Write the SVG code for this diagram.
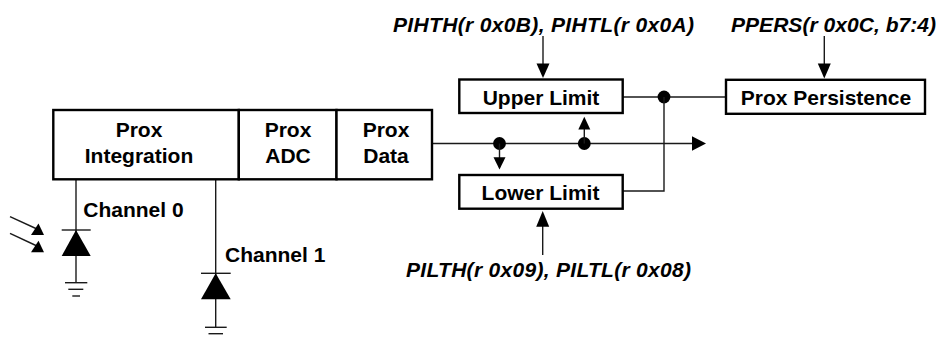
<svg xmlns="http://www.w3.org/2000/svg" width="945" height="339" viewBox="0 0 945 339">
<style>
.box{fill:#fff;stroke:#000;stroke-width:2.4}
.ln{fill:none;stroke:#1a1a1a;stroke-width:1.4}
.hd{fill:#000;stroke:none}
.t{font-family:"Liberation Sans",Arial,Helvetica,sans-serif;font-weight:bold;font-size:21px;fill:#000}
.c{text-anchor:middle}
.i{font-style:italic}
</style>
<rect width="945" height="339" fill="#fff"/>
<g id="connectors">
  <line class="ln" x1="432" y1="143.5" x2="693" y2="143.5"/>
  <polygon class="hd" points="692,136.3 706,143.5 692,150.7"/>
  <circle class="hd" cx="499.5" cy="143.5" r="6.4"/>
  <line class="ln" x1="499.5" y1="143.5" x2="499.5" y2="158"/>
  <polygon class="hd" points="493.5,157.3 505.5,157.3 499.5,169.5"/>
  <circle class="hd" cx="584.3" cy="143.5" r="6.4"/>
  <line class="ln" x1="584.3" y1="143.5" x2="584.3" y2="129"/>
  <polygon class="hd" points="578.3,129.5 590.3,129.5 584.3,116.7"/>
  <line class="ln" x1="622.7" y1="97" x2="726" y2="97"/>
  <circle class="hd" cx="664" cy="97" r="6.4"/>
  <polyline class="ln" points="664,97 664,191 622.7,191"/>
  <line class="ln" x1="543" y1="36" x2="543" y2="64"/>
  <polygon class="hd" points="536.5,63.5 549.5,63.5 543,78"/>
  <line class="ln" x1="824.3" y1="36" x2="824.3" y2="64"/>
  <polygon class="hd" points="817.8,63.5 830.8,63.5 824.3,78.5"/>
  <line class="ln" x1="542.7" y1="255" x2="542.7" y2="226"/>
  <polygon class="hd" points="536.2,226.7 549.2,226.7 542.7,211"/>
  <line class="ln" x1="76" y1="179.3" x2="76" y2="282.7"/>
  <line class="ln" x1="215.7" y1="179.3" x2="215.7" y2="327.3"/>
</g>
<g id="prox-integration">
  <rect class="box" x="53.3" y="110" width="185.5" height="69.3"/>
  <text class="t c" x="139" y="137">Prox</text>
  <text class="t c" x="139" y="163.3">Integration</text>
</g>
<g id="prox-adc">
  <rect class="box" x="238.8" y="110" width="97.7" height="69.3"/>
  <text class="t c" x="288" y="137">Prox</text>
  <text class="t c" x="288" y="163.3">ADC</text>
</g>
<g id="prox-data">
  <rect class="box" x="336.5" y="110" width="95.5" height="69.3"/>
  <text class="t c" x="386" y="137">Prox</text>
  <text class="t c" x="386" y="163.3">Data</text>
</g>
<g id="upper-limit">
  <rect class="box" x="459.3" y="79.5" width="163.4" height="33.5"/>
  <text class="t c" x="541" y="104.5">Upper Limit</text>
</g>
<g id="lower-limit">
  <rect class="box" x="459.3" y="175" width="163.4" height="33.7"/>
  <text class="t c" x="540.5" y="200">Lower Limit</text>
</g>
<g id="prox-persistence">
  <rect class="box" x="726" y="79.8" width="199" height="34"/>
  <text class="t c" x="826" y="105">Prox Persistence</text>
</g>
<g id="pihth-label">
  <text class="t i" x="393" y="32" textLength="301" lengthAdjust="spacing">PIHTH(r 0x0B), PIHTL(r 0x0A)</text>
</g>
<g id="ppers-label">
  <text class="t i" x="731" y="32" textLength="205" lengthAdjust="spacing">PPERS(r 0x0C, b7:4)</text>
</g>
<g id="pilth-label">
  <text class="t i" x="406" y="277" textLength="285" lengthAdjust="spacing">PILTH(r 0x09), PILTL(r 0x08)</text>
</g>
<g id="channel0">
  <text class="t" x="83.3" y="217.3">Channel 0</text>
  <line class="ln" x1="61.7" y1="230" x2="90.7" y2="230"/>
  <polygon class="hd" points="76,230 61.7,256 90.7,256"/>
  <line class="ln" x1="65" y1="282.7" x2="87.3" y2="282.7"/>
  <line class="ln" x1="68.3" y1="289.3" x2="83.3" y2="289.3"/>
  <line class="ln" x1="72.3" y1="296" x2="80" y2="296"/>
  <line class="ln" x1="10" y1="216.7" x2="37" y2="229"/>
  <polygon class="hd" points="31,235 44,235 38.5,223.5"/>
  <line class="ln" x1="10" y1="233.3" x2="37" y2="246"/>
  <polygon class="hd" points="31,252.3 44,252.3 38.5,240.8"/>
</g>
<g id="channel1">
  <text class="t" x="225" y="261.7">Channel 1</text>
  <line class="ln" x1="201" y1="273.3" x2="230.7" y2="273.3"/>
  <polygon class="hd" points="215.7,273.3 201,299.3 230.7,299.3"/>
  <line class="ln" x1="205" y1="327.3" x2="226.7" y2="327.3"/>
  <line class="ln" x1="208.5" y1="333.7" x2="223" y2="333.7"/>
</g>
</svg>
